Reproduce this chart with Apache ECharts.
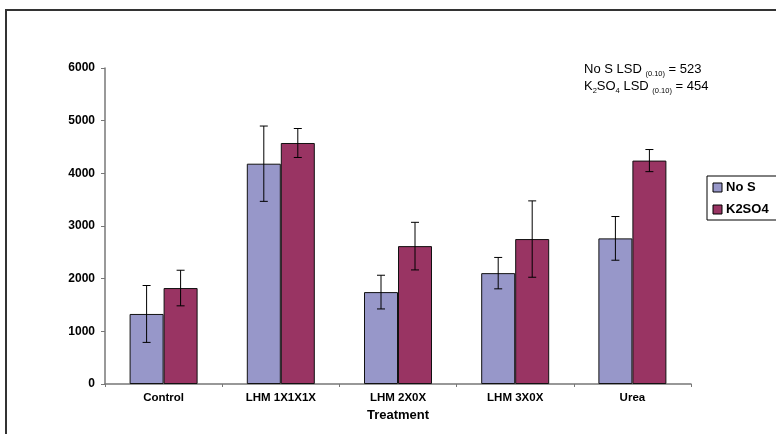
<!DOCTYPE html>
<html>
<head>
<meta charset="utf-8">
<script src="https://cdn.jsdelivr.net/npm/echarts@6/dist/echarts.min.js"></script>
<style>
html,body{margin:0;padding:0;background:#fff;}
#chart{width:776px;height:434px;}
</style>
</head>
<body>
<div id="chart"></div>
<script>
// ---- data ----
var categories = ['Control', 'LHM 1X1X1X', 'LHM 2X0X', 'LHM 3X0X', 'Urea'];
var seriesNames = ['No S', 'K2SO4'];
var noS = [1330, 4183, 1745, 2105, 2765];
var noSErr = [540, 715, 320, 298, 415];
var k2so4 = [1822, 4576, 2618, 2752, 4242];
var k2so4Err = [338, 275, 452, 725, 210];
var yTicks = [0, 1000, 2000, 3000, 4000, 5000, 6000];

var FONT = '"Liberation Sans", Arial, sans-serif';
var BAR_W = 34;

function errSeries(vals, errs, side) {
  return {
    type: 'custom',
    z: 10,
    data: vals.map(function (v, i) { return [i, v - errs[i], v + errs[i]]; }),
    renderItem: function (params, api) {
      var lo = api.coord([api.value(0), api.value(1)]);
      var hi = api.coord([api.value(0), api.value(2)]);
      var x = lo[0] + side * BAR_W / 2;
      var c = 4;
      var st = { stroke: '#000', lineWidth: 1 };
      return {
        type: 'group',
        children: [
          { type: 'line', shape: { x1: x, y1: lo[1], x2: x, y2: hi[1] }, style: st },
          { type: 'line', shape: { x1: x - c, y1: lo[1], x2: x + c, y2: lo[1] }, style: st },
          { type: 'line', shape: { x1: x - c, y1: hi[1], x2: x + c, y2: hi[1] }, style: st }
        ]
      };
    }
  };
}

var chart = echarts.init(document.getElementById('chart'));
chart.setOption({
  animation: false,
  backgroundColor: '#fff',
  grid: { left: 105, right: 85, top: 68, bottom: 50 },
  legend: { show: false },
  xAxis: {
    type: 'category',
    data: categories,
    name: 'Treatment',
    nameLocation: 'middle',
    nameGap: 23,
    nameTextStyle: { fontFamily: FONT, fontWeight: 'bold', fontSize: 13, color: '#000' },
    axisLine: { lineStyle: { color: '#777', width: 1.5 } },
    axisTick: { show: true, length: 3, lineStyle: { color: '#777' } },
    axisLabel: { fontFamily: FONT, fontWeight: 'bold', fontSize: 11.5, color: '#000', margin: 8 }
  },
  yAxis: {
    type: 'value',
    min: yTicks[0],
    max: yTicks[yTicks.length - 1],
    interval: 1000,
    splitLine: { show: false },
    axisLine: { show: true, lineStyle: { color: '#777', width: 1.5 } },
    axisTick: { show: true, length: 4, lineStyle: { color: '#777' } },
    axisLabel: { fontFamily: FONT, fontWeight: 'bold', fontSize: 12, color: '#000', margin: 10,
      formatter: function (v) { return String(v); } }
  },
  series: [
    {
      name: seriesNames[0], type: 'bar', data: noS, barWidth: BAR_W, barGap: '0%',
      itemStyle: { color: '#9797C9', borderColor: '#111', borderWidth: 1 }
    },
    {
      name: seriesNames[1], type: 'bar', data: k2so4, barWidth: BAR_W, barGap: '0%',
      itemStyle: { color: '#993463', borderColor: '#111', borderWidth: 1 }
    },
    errSeries(noS, noSErr, -1),
    errSeries(k2so4, k2so4Err, 1)
  ],
  graphic: [
    // outer frame
    { type: 'rect', shape: { x: 6, y: 10, width: 800, height: 460 }, style: { fill: 'none', stroke: '#333', lineWidth: 2 }, silent: true },
    // LSD annotation
    {
      type: 'text', left: 584, top: 61,
      style: {
        text: 'No S LSD {s|(0.10)} = 523\nK{s|2}SO{s|4} LSD {s|(0.10)} = 454',
        fontFamily: FONT, fontSize: 13, fill: '#000', lineHeight: 17,
        rich: { s: { fontFamily: FONT, fontSize: 7.5, verticalAlign: 'bottom', padding: [5, 0, 0, 0] } }
      }
    },
    // legend box
    { type: 'rect', shape: { x: 707, y: 176, width: 90, height: 44 }, style: { fill: '#fff', stroke: '#000', lineWidth: 1 } },
    { type: 'rect', shape: { x: 713, y: 183, width: 9, height: 9 }, style: { fill: '#9797C9', stroke: '#000', lineWidth: 1 } },
    { type: 'text', left: 726, top: 181, style: { text: seriesNames[0], fontFamily: FONT, fontWeight: 'bold', fontSize: 13, fill: '#000' } },
    { type: 'rect', shape: { x: 713, y: 205, width: 9, height: 9 }, style: { fill: '#993463', stroke: '#000', lineWidth: 1 } },
    { type: 'text', left: 726, top: 203, style: { text: seriesNames[1], fontFamily: FONT, fontWeight: 'bold', fontSize: 13, fill: '#000' } }
  ]
});
</script>
</body>
</html>
